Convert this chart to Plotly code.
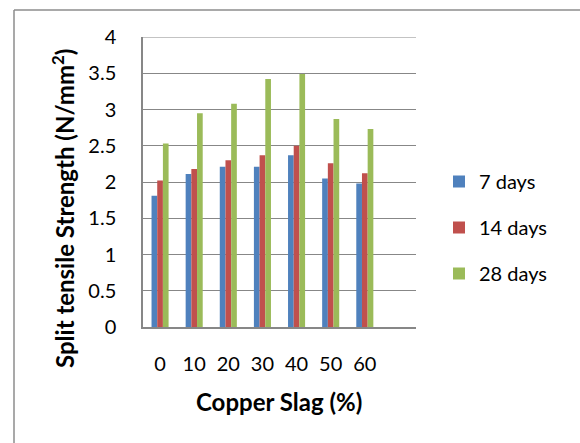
import plotly.graph_objects as go

# Copper slag replacement levels (%) and split tensile strength (N/mm²)
slag_levels = ["0", "10", "20", "30", "40", "50", "60"]
days_7 = [1.81, 2.11, 2.21, 2.21, 2.37, 2.05, 1.98]
days_14 = [2.02, 2.18, 2.30, 2.37, 2.50, 2.26, 2.12]
days_28 = [2.53, 2.95, 3.08, 3.42, 3.49, 2.87, 2.73]
series_names = ["7 days", "14 days", "28 days"]
series_colors = ["#4F81BD", "#C0504D", "#9BBB59"]
y_ticks = [0, 0.5, 1, 1.5, 2, 2.5, 3, 3.5, 4]
y_ticktext = ["0", "0.5", "1", "1.5", "2", "2.5", "3", "3.5", "4"]

W, H = 580, 443
L, R, T, B = 143, 164, 37, 116
FONT = "Lato, Calibri, 'Open Sans', sans-serif"
GRID = "#878787"

pos = list(range(len(slag_levels)))
fig = go.Figure()
for i, (name, vals, col) in enumerate(zip(series_names, [days_7, days_14, days_28], series_colors)):
    fig.add_trace(go.Bar(
        x=pos, y=vals, name=name, marker_color=col,
        marker_line_width=0, legendgroup=f"g{i}",
    ))

def px_to_paper_x(px):
    return (px - L) / (W - L - R)

def px_to_paper_y(py):
    return (H - B - py) / (H - T - B)

fig.update_layout(
    width=W, height=H,
    margin=dict(l=L, r=R, t=T, b=B),
    paper_bgcolor="white", plot_bgcolor="white",
    barmode="group", bargap=0.5, bargroupgap=0,
    font=dict(family=FONT, size=20, color="black"),
    showlegend=True,
    legend=dict(
        x=px_to_paper_x(439), y=px_to_paper_y(162), xanchor="left", yanchor="top",
        font=dict(size=20), tracegroupgap=17, traceorder="grouped",
        itemwidth=30, bgcolor="rgba(0,0,0,0)",
    ),
    xaxis=dict(
        range=[-0.5, 7.5], tickvals=pos, ticktext=slag_levels,
        showgrid=False, zeroline=False, showline=True,
        linecolor=GRID, linewidth=1.5, ticks="",
        ticklabelstandoff=18, tickfont=dict(size=20),
    ),
    yaxis=dict(
        range=[0, 4], tickvals=y_ticks, ticktext=y_ticktext,
        showgrid=True, gridcolor=GRID, gridwidth=1, zeroline=False,
        showline=True, linecolor=GRID, linewidth=1.5, ticks="",
        ticklabelstandoff=21, tickfont=dict(size=20),
    ),
    shapes=[
        # top gridline at the axis maximum
        dict(type="line", xref="paper", yref="y",
             x0=0, x1=1, y0=y_ticks[-1], y1=y_ticks[-1],
             line=dict(color=GRID, width=1)),
        # chart frame (left and top edges)
        dict(type="line", xref="paper", yref="paper",
             x0=px_to_paper_x(14), x1=px_to_paper_x(14),
             y0=px_to_paper_y(10), y1=px_to_paper_y(443),
             line=dict(color="#8C8C8C", width=1.5)),
        dict(type="line", xref="paper", yref="paper",
             x0=px_to_paper_x(14), x1=px_to_paper_x(580),
             y0=px_to_paper_y(10), y1=px_to_paper_y(10),
             line=dict(color="#8C8C8C", width=1.5)),
    ],
    annotations=[
        dict(text="<b>Split tensile Strength (N/mm<sup>2</sup>)</b>",
             xref="paper", yref="paper", x=px_to_paper_x(63), y=px_to_paper_y(209),
             textangle=-90, showarrow=False, font=dict(size=24),
             xanchor="center", yanchor="middle"),
        dict(text="<b>Copper Slag (%)</b>",
             xref="paper", yref="paper", x=px_to_paper_x(279), y=px_to_paper_y(401),
             showarrow=False, font=dict(size=24),
             xanchor="center", yanchor="middle"),
    ],
)

fig.write_html("out.html")
